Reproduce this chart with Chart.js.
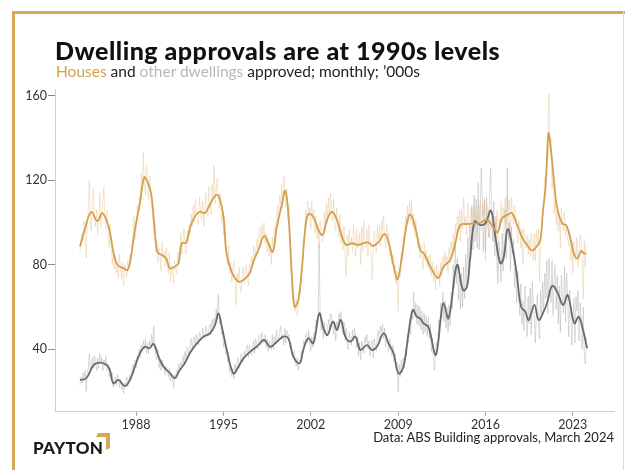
<!DOCTYPE html>
<html>
<head>
<meta charset="utf-8">
<script src="https://cdn.jsdelivr.net/npm/chart.js@4.4.1/dist/chart.umd.min.js"></script>
<style>
  body { margin: 0; background: #fff; font-family: 'Lato', 'DejaVu Sans', sans-serif; }
  #wrap { position: relative; width: 625px; height: 470px; overflow: hidden; background: #fff; }
  #chartID { position: absolute; left: 0; top: 0; }
  .frameTop { position: absolute; left: 12px; top: 11px; width: 613px; height: 3px; background: #d6a85a; }
  .frameLeft { position: absolute; left: 12px; top: 11px; width: 3px; height: 459px; background: #d6a85a; }
  .frameRight { position: absolute; left: 623px; top: 11px; width: 1px; height: 459px; background: #ecd6ad; }
  #title { position: absolute; left: 55px; top: 35px; font-size: 25px; font-weight: 900; letter-spacing: 0.5px; color: #111; white-space: nowrap; }
  #subtitle { position: absolute; left: 56px; top: 62px; font-size: 15.5px; color: #222; white-space: nowrap; }
  #source { position: absolute; right: 11px; top: 429px; font-size: 13px; color: #222; white-space: nowrap; }
  #logo { position: absolute; left: 33px; top: 437px; font-size: 17px; font-weight: 900; color: #1a1a1a; letter-spacing: 0.3px; }
  #mark { position: absolute; left: 96px; top: 432px; }
</style>
</head>
<body>
<div id="wrap">
  <canvas id="chartID" width="625" height="470"></canvas>
  <div class="frameTop"></div>
  <div class="frameLeft"></div>
  <div class="frameRight"></div>
  <div id="title">Dwelling approvals are at 1990s levels</div>
  <div id="subtitle"><span style="color:#d4a04e">Houses</span> and <span style="color:#b8b8b8">other dwellings</span> approved; monthly; ’000s</div>
  <div id="source">Data: ABS Building approvals, March 2024</div>
  <div id="logo">PAYTON</div>
  <svg id="mark" width="16" height="18" viewBox="0 0 16 18">
    <polygon points="2,1 14,1 14,16 10,18 10,5 0,5" fill="#d6a85a"/>
  </svg>
</div>
<script>
// Monthly series start in July 1983 and run to February 2024 ('000s)
const firstYear = 1983
const firstMonth = 6

const houseRaw = [
	86, 92, 95, 91, 101, 97,
	83, 99, 107, 120, 101, 96, 109, 116, 103, 98, 106, 94,
	103, 114, 98, 104, 110, 117, 101, 97, 106, 95, 88, 99,
	91, 80, 87, 78, 84, 76, 81, 74, 85, 79, 73, 81,
	70, 80, 77, 74, 82, 78, 85, 81, 90, 95, 103, 92,
	96, 108, 104, 112, 109, 123, 117, 133, 118, 113, 127, 121,
	111, 122, 116, 107, 103, 95, 99, 86, 92, 81, 88, 84,
	77, 91, 83, 86, 79, 88, 82, 76, 86, 72, 80, 77,
	71, 82, 78, 76, 86, 80, 88, 95, 85, 92, 97, 89,
	85, 96, 90, 99, 95, 104, 98, 108, 100, 111, 104, 101,
	99, 112, 105, 101, 110, 98, 106, 114, 108, 103, 117, 111,
	104, 118, 112, 127, 109, 116, 121, 110, 107, 114, 100, 106,
	94, 103, 90, 84, 80, 89, 76, 81, 72, 78, 82, 73,
	61, 76, 72, 79, 70, 67, 75, 79, 71, 76, 80, 74,
	70, 80, 76, 84, 79, 89, 82, 86, 92, 85, 94, 98,
	88, 99, 94, 100, 90, 95, 86, 93, 84, 90, 80, 93,
	86, 98, 94, 103, 108, 99, 113, 109, 118, 107, 122, 116,
	107, 116, 101, 108, 92, 86, 77, 70, 63, 58, 64, 56,
	59, 70, 66, 77, 83, 92, 96, 106, 100, 110, 103, 107,
	97, 110, 101, 106, 95, 103, 92, 99, 88, 101, 95, 91,
	92, 105, 98, 109, 100, 112, 103, 114, 107, 101, 111, 98,
	96, 107, 99, 93, 104, 90, 97, 87, 98, 84, 74, 94,
	84, 97, 89, 93, 86, 99, 92, 84, 97, 88, 91, 95,
	80, 98, 86, 101, 91, 88, 97, 84, 99, 91, 87, 73,
	84, 96, 90, 86, 98, 92, 99, 89, 101, 96, 103, 92,
	88, 99, 91, 95, 84, 89, 80, 85, 76, 80, 71, 77,
	58, 78, 74, 86, 82, 93, 90, 103, 96, 108, 100, 110,
	101, 111, 98, 104, 93, 101, 95, 88, 93, 83, 90, 85,
	78, 91, 82, 87, 79, 84, 77, 85, 75, 81, 72, 79,
	68, 80, 73, 77, 70, 81, 75, 84, 78, 86, 80, 84,
	76, 88, 81, 91, 85, 95, 89, 99, 92, 103, 96, 106,
	91, 106, 97, 112, 99, 103, 94, 109, 101, 96, 107, 102,
	90, 107, 99, 104, 94, 108, 101, 110, 96, 109, 103, 111,
	82, 109, 98, 106, 93, 102, 97, 104, 91, 99, 94, 106,
	76, 102, 97, 110, 100, 107, 103, 112, 99, 113, 106, 111,
	93, 112, 103, 99, 108, 104, 96, 90, 101, 98, 88, 97,
	80, 97, 91, 88, 94, 85, 92, 84, 95, 89, 82, 95,
	82, 96, 90, 97, 72, 93, 98, 104, 110, 121, 117, 138,
	144, 161, 134, 140, 116, 124, 104, 112, 99, 106, 96, 104,
	88, 107, 101, 96, 105, 94, 99, 92, 89, 96, 82, 92,
	76, 91, 88, 82, 93, 79, 84, 94, 91, 83, 64, 92,
	79, 90
]

const otherRaw = [
	23, 27, 24, 29, 25, 30,
	20, 29, 31, 38, 30, 33, 36, 31, 37, 34, 30, 36,
	31, 38, 34, 36, 30, 35, 32, 37, 30, 33, 27, 31,
	26, 29, 22, 25, 27, 23, 28, 25, 22, 26, 21, 24,
	19, 24, 23, 27, 22, 26, 28, 25, 30, 33, 29, 35,
	31, 37, 35, 40, 36, 42, 39, 44, 40, 45, 38, 43,
	38, 44, 41, 47, 42, 51, 40, 37, 35, 40, 31, 35,
	30, 35, 33, 31, 28, 32, 30, 27, 31, 25, 28, 26,
	22, 28, 26, 30, 29, 33, 30, 34, 32, 37, 33, 39,
	35, 41, 39, 37, 42, 45, 40, 44, 46, 42, 47, 45,
	42, 48, 46, 44, 50, 47, 45, 51, 49, 46, 50, 52,
	47, 54, 50, 55, 52, 59, 55, 66, 52, 55, 47, 49,
	41, 45, 38, 40, 34, 37, 29, 32, 27, 31, 26, 33,
	29, 34, 36, 31, 33, 38, 35, 34, 39, 36, 40, 42,
	36, 42, 39, 37, 41, 44, 38, 45, 42, 40, 46, 47,
	42, 48, 45, 43, 47, 41, 45, 39, 44, 42, 40, 47,
	40, 46, 44, 49, 43, 45, 48, 51, 45, 47, 42, 50,
	43, 49, 46, 47, 41, 43, 38, 36, 39, 34, 32, 36,
	30, 35, 34, 39, 37, 44, 42, 46, 48, 43, 49, 44,
	39, 46, 41, 48, 45, 54, 51, 52, 90, 57, 49, 54,
	45, 53, 48, 46, 50, 54, 49, 57, 55, 51, 47, 53,
	44, 53, 50, 57, 54, 58, 50, 47, 53, 44, 50, 42,
	40, 48, 45, 42, 49, 44, 50, 47, 41, 46, 37, 43,
	35, 44, 41, 38, 46, 43, 47, 40, 44, 37, 42, 44,
	36, 45, 42, 39, 46, 49, 43, 51, 48, 52, 45, 50,
	41, 47, 44, 39, 45, 40, 37, 42, 34, 38, 31, 34,
	20, 33, 27, 35, 29, 36, 31, 40, 37, 47, 43, 52,
	47, 58, 54, 67, 55, 62, 52, 61, 51, 60, 49, 58,
	47, 57, 48, 56, 46, 55, 45, 52, 39, 45, 34, 30,
	38, 43, 40, 54, 49, 62, 55, 67, 53, 63, 50, 60,
	48, 61, 51, 67, 59, 80, 69, 91, 71, 83, 63, 76,
	59, 76, 60, 79, 64, 85, 69, 93, 77, 99, 83, 108,
	87, 113, 91, 111, 88, 119, 87, 109, 126, 110, 86, 111,
	87, 112, 101, 93, 115, 126, 104, 91, 110, 84, 103, 80,
	71, 91, 84, 72, 95, 77, 99, 106, 83, 126, 92, 100,
	77, 98, 85, 92, 69, 80, 62, 77, 66, 56, 71, 52,
	63, 49, 70, 58, 46, 65, 52, 69, 47, 72, 61, 55,
	43, 60, 66, 51, 45, 68, 56, 72, 58, 76, 64, 82,
	57, 83, 71, 62, 82, 56, 74, 80, 59, 75, 52, 70,
	48, 75, 64, 57, 79, 53, 76, 66, 46, 68, 58, 42,
	55, 64, 43, 65, 58, 68, 44, 62, 53, 40, 60, 38,
	33, 46
]

// Trend lines as (decimal year, value) pairs
const houseTrendYears = [1983.5, 1983.9, 1984.4, 1984.9, 1985.3, 1985.8, 1986.2, 1986.5, 1987.0, 1987.3, 1987.55, 1987.9, 1988.3, 1988.65, 1988.9, 1989.2, 1989.45, 1989.7, 1990.05, 1990.4, 1990.7, 1991.1, 1991.4, 1991.65, 1992.0, 1992.35, 1992.7, 1993.1, 1993.5, 1993.9, 1994.4, 1994.65, 1995.0, 1995.25, 1995.65, 1996.2, 1996.6, 1997.1, 1997.4, 1997.8, 1998.26, 1998.6, 1998.95, 1999.28, 1999.7, 1999.95, 2000.2, 2000.5, 2000.7, 2001.0, 2001.3, 2001.55, 2001.8, 2002.2, 2002.6, 2002.95, 2003.3, 2003.7, 2004.1, 2004.5, 2004.85, 2005.3, 2005.8, 2006.2, 2006.6, 2007.0, 2007.45, 2007.9, 2008.25, 2008.65, 2008.95, 2009.3, 2009.65, 2009.97, 2010.4, 2010.77, 2011.1, 2011.58, 2012.2, 2012.64, 2013.18, 2013.58, 2013.98, 2014.5, 2015.05, 2015.58, 2016.12, 2016.6, 2016.97, 2017.33, 2017.73, 2018.13, 2018.53, 2018.93, 2019.33, 2019.73, 2020.13, 2020.4, 2020.6, 2020.8, 2020.95, 2021.06, 2021.2, 2021.46, 2021.73, 2022.14, 2022.48, 2022.8, 2023.12, 2023.39, 2023.66, 2023.93, 2024.08]
const houseTrend = [88.6, 97, 105, 100.7, 104.4, 98, 85.4, 80, 78.3, 77.5, 82.3, 96.5, 109, 121.4, 119.3, 113.9, 99.6, 86.2, 84.6, 83.1, 78.3, 79.1, 80.7, 90.2, 90.5, 98, 102.8, 105.1, 104.4, 108.3, 113.1, 112.2, 102.8, 85.4, 76.8, 72, 72.8, 76, 81.5, 87, 93.6, 90.2, 86.2, 98, 109, 115, 104.4, 72.8, 60.2, 63.3, 79, 96.5, 104, 102.8, 96.5, 94.1, 101.2, 105.1, 101.2, 93.3, 89.4, 90.2, 89.4, 90.2, 90.6, 88.9, 90.9, 94.6, 90.2, 79.1, 73.2, 83.8, 98, 103.9, 97, 87, 85, 79.1, 73.8, 79.1, 82.3, 90.2, 98.8, 99.3, 99.6, 99.9, 101.3, 98, 95.5, 102, 103.5, 104.4, 99, 93, 89.4, 86.8, 88.9, 91.7, 105, 116, 132, 142.3, 137, 121.7, 107.5, 99.6, 98.6, 92.5, 84.6, 83.1, 86.5, 85.3, 85.4]

const otherTrendYears = [1983.5, 1984.0, 1984.6, 1985.1, 1985.65, 1985.9, 1986.18, 1986.58, 1987.1, 1987.5, 1987.9, 1988.3, 1988.7, 1989.07, 1989.4, 1989.8, 1990.2, 1990.73, 1991.1, 1991.5, 1991.9, 1992.3, 1992.87, 1993.4, 1993.93, 1994.33, 1994.6, 1994.87, 1995.27, 1995.8, 1996.2, 1996.6, 1997.15, 1997.8, 1998.26, 1998.75, 1999.28, 1999.8, 2000.2, 2000.6, 2001.1, 2001.4, 2001.8, 2002.2, 2002.68, 2003.02, 2003.34, 2003.77, 2004.1, 2004.4, 2004.77, 2005.17, 2005.57, 2005.97, 2006.5, 2006.9, 2007.3, 2007.83, 2008.23, 2008.63, 2009.03, 2009.43, 2009.83, 2010.18, 2010.5, 2010.77, 2011.04, 2011.44, 2011.98, 2012.2, 2012.4, 2012.64, 2013.04, 2013.72, 2014.2, 2014.52, 2014.78, 2015.13, 2015.59, 2015.99, 2016.44, 2016.79, 2017.19, 2017.45, 2017.78, 2018.2, 2018.53, 2018.85, 2019.19, 2019.46, 2019.92, 2020.26, 2020.66, 2020.93, 2021.34, 2021.74, 2022.22, 2022.59, 2023.12, 2023.47, 2023.82, 2024.14]
const otherTrend = [25.5, 26.3, 32.6, 33.7, 32.6, 30.2, 23.9, 25.5, 22.6, 25.5, 31.8, 38.1, 41.2, 40.5, 42.5, 36.5, 31.8, 28.6, 26.3, 30.2, 33.4, 38.1, 42.8, 46, 47.6, 51.5, 57, 50.7, 39.7, 28.6, 31.8, 35.7, 38.9, 42, 44.4, 41.2, 43.6, 46, 45.2, 36.5, 33.4, 39.7, 45.2, 42.8, 57, 49.9, 46.8, 53.1, 49.1, 53.9, 46, 43.6, 46, 39.7, 42, 39.7, 41.2, 47.6, 42.8, 38.1, 28.6, 31.8, 47.6, 58.6, 55.5, 54.5, 52.3, 50.4, 37.3, 42.8, 54, 61.8, 54.7, 79.9, 68, 69.6, 83.8, 100.4, 98.8, 99.6, 105.6, 93.3, 80.7, 83.1, 96.8, 87, 74.4, 60.2, 57.8, 53.9, 61, 53.9, 57.8, 61.8, 70, 67.3, 61, 65.7, 52.3, 55.4, 49.1, 40.5]

const xTickLabels = [1988, 1995, 2002, 2009, 2016, 2023]
const yTickLabels = [40, 80, 120, 160]

const monthly = function(values) {
	return values.map(function(v, i) {
		return { x: firstYear + (firstMonth + i) / 12, y: v }
	})
}
const paired = function(years, values) {
	return years.map(function(yr, i) {
		return { x: yr, y: values[i] }
	})
}

const data = {
	datasets: [
		{
			label: 'Houses trend',
			data: paired(houseTrendYears, houseTrend),
			borderColor: '#d4a04e',
			borderWidth: 1.8,
			tension: 0.4,
			pointRadius: 0,
			order: 0,
		},
		{
			label: 'Other dwellings trend',
			data: paired(otherTrendYears, otherTrend),
			borderColor: '#6b6b6b',
			borderWidth: 1.8,
			tension: 0.4,
			pointRadius: 0,
			order: 1,
		},
		{
			label: 'Houses',
			data: monthly(houseRaw),
			borderColor: 'rgba(222, 185, 125, 0.48)',
			borderWidth: 0.75,
			pointRadius: 0,
			order: 2,
		},
		{
			label: 'Other dwellings',
			data: monthly(otherRaw),
			borderColor: 'rgba(160, 160, 160, 0.5)',
			borderWidth: 0.75,
			pointRadius: 0,
			order: 3,
		},
	],
}

const tickFont = { family: "'Lato', 'DejaVu Sans', sans-serif", size: 12.5 }

window.onload = function() {
	let chartCtx = document.getElementById('chartID').getContext('2d')
	window.lineChart = new Chart(chartCtx, {
		type: 'line',
		data: data,
		options: {
			responsive: false,
			animation: false,
			devicePixelRatio: 1,
			layout: { padding: { left: 15, right: 11, top: 89, bottom: 29 } },
			plugins: { legend: { display: false }, tooltip: { enabled: false } },
			scales: {
				x: {
					type: 'linear',
					min: 1981.5,
					max: 2026.3,
					afterBuildTicks: function(scale) {
						scale.ticks = xTickLabels.map(function(v) { return { value: v } })
					},
					afterFit: function(scale) { scale.height = 30 },
					ticks: {
						callback: function(v) { return String(v) },
						color: '#333',
						font: tickFont,
						padding: 1,
						maxRotation: 0,
					},
					grid: { drawOnChartArea: false, tickLength: 5, color: '#aaa' },
					border: { color: '#cfcfcf' },
				},
				y: {
					min: 10.8,
					max: 163.2,
					afterBuildTicks: function(scale) {
						scale.ticks = yTickLabels.map(function(v) { return { value: v } })
					},
					afterFit: function(scale) { scale.width = 40 },
					ticks: { color: '#333', font: tickFont, padding: 1 },
					grid: { drawOnChartArea: false, tickLength: 7, color: '#888' },
					border: { color: '#cfcfcf' },
				},
			},
		},
	})
}
</script>
</body>
</html>
